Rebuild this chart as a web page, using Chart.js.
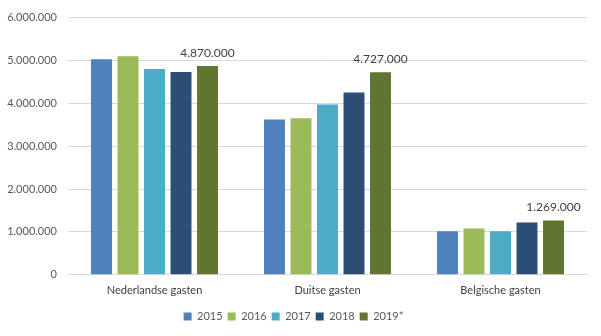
<!DOCTYPE html>
<html>
<head>
<meta charset="utf-8">
<script src="https://cdn.jsdelivr.net/npm/chart.js@4"></script>
<style>
  html, body { margin: 0; padding: 0; background: #fff; }
  #wrap { width: 601px; height: 336px; }
</style>
</head>
<body>
<div id="wrap"><canvas id="bar-chart"></canvas></div>
<script>
const categories = ["Nederlandse gasten", "Duitse gasten", "Belgische gasten"];
const years = ["2015", "2016", "2017", "2018", "2019*"];
const v2015 = [5030000, 3620000, 1015000];
const v2016 = [5100000, 3650000, 1080000];
const v2017 = [4800000, 3970000, 1015000];
const v2018 = [4730000, 4250000, 1220000];
const v2019 = [4870000, 4727000, 1269000];
const colors = ["#4F81BD", "#9BBB59", "#4BACC6", "#2C4D75", "#5F7530"];

const fmt = n => String(n).replace(/\B(?=(\d{3})+(?!\d))/g, ".");

// labels only on the last series, as in the original
const lastLabels = {
  id: 'lastLabels',
  afterDatasetsDraw(chart) {
    const ctx = chart.ctx;
    const i = chart.data.datasets.length - 1;
    const meta = chart.getDatasetMeta(i);
    ctx.save();
    ctx.font = '12px Lato';
    ctx.fillStyle = '#404040';
    ctx.textAlign = 'center';
    ctx.textBaseline = 'middle';
    meta.data.forEach((bar, j) => {
      ctx.fillText(fmt(chart.data.datasets[i].data[j]), bar.x, bar.y - 13);
    });
    ctx.restore();
  }
};

new Chart(document.getElementById("bar-chart"), {
  type: 'bar',
  data: {
    labels: categories,
    datasets: [v2015, v2016, v2017, v2018, v2019].map((d, i) => ({
      label: years[i],
      data: d,
      backgroundColor: colors[i],
      categoryPercentage: 0.766,
      barPercentage: 0.79
    }))
  },
  options: {
    responsive: true,
    maintainAspectRatio: false,
    animation: false,
    layout: { padding: { top: 5, right: 14, left: 0, bottom: 4 } },
    plugins: {
      legend: {
        position: 'bottom',
        labels: {
          boxWidth: 8, boxHeight: 8, padding: 5,
          color: '#595959',
          font: { family: 'Lato', size: 11 }
        }
      },
      tooltip: { enabled: false }
    },
    scales: {
      x: {
        afterFit: s => { s.height += 8; },
        grid: { display: false },
        border: { color: '#d9d9d9' },
        ticks: { color: '#404040', font: { family: 'Lato', size: 11 }, padding: 1 }
      },
      y: {
        min: 0, max: 6000000,
        afterFit: s => { s.width = 68; },
        grid: { color: '#d9d9d9', drawTicks: false },
        border: { display: false },
        ticks: {
          stepSize: 1000000,
          padding: 11,
          color: '#595959',
          font: { family: 'Lato', size: 11 },
          callback: v => fmt(v)
        }
      }
    }
  },
  plugins: [lastLabels]
});
</script>
</body>
</html>
